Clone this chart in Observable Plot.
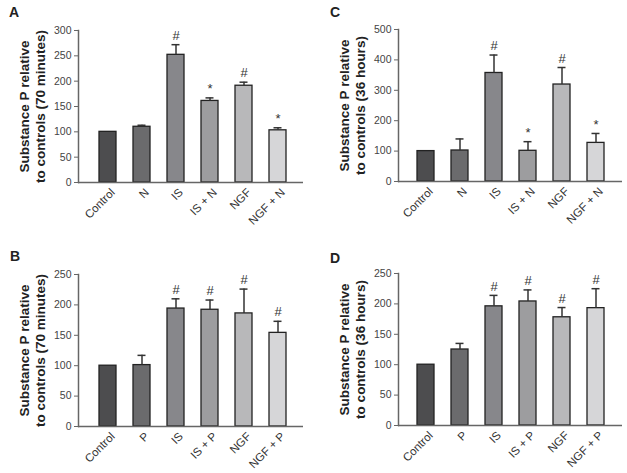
<!DOCTYPE html>
<html>
<head>
<meta charset="utf-8">
<script src="https://cdn.jsdelivr.net/npm/d3@7"></script>
<script src="https://cdn.jsdelivr.net/npm/@observablehq/plot@0.6"></script>
<style>
  body { margin: 0; background: #fff; }
  #wrap { position: relative; width: 627px; height: 473px; background: #fff; font-family: "Liberation Sans", Arial, sans-serif; }
  .panel { position: absolute; }
  .letter { position: absolute; font-weight: bold; font-size: 14px; color: #222; }
</style>
</head>
<body>
<div id="wrap"></div>
<script>
// Categories
const catsN = ["Control", "N", "IS", "IS + N", "NGF", "NGF + N"];
const catsP = ["Control", "P", "IS", "IS + P", "NGF", "NGF + P"];
const barColors = ["#4d4d4f", "#6b6b6d", "#87878b", "#9d9d9f", "#b8b8ba", "#d6d6d8"];

// Panel A: 70 minutes, N
const aMean = [100, 110, 252, 161, 191, 103];
const aErr  = [null, 113, 272, 167, 198, 108];
const aSig  = ["", "", "#", "*", "#", "*"];
const aTicks = [0, 50, 100, 150, 200, 250, 300];

// Panel C: 36 hours, N
const cMean = [100, 102, 357, 101, 319, 127];
const cErr  = [null, 140, 416, 131, 375, 158];
const cSig  = ["", "", "#", "*", "#", "*"];
const cTicks = [0, 100, 200, 300, 400, 500];

// Panel B: 70 minutes, P
const bMean = [100, 101, 194, 192, 186, 154];
const bErr  = [null, 117, 210, 208, 226, 173];
const bSig  = ["", "", "#", "#", "#", "#"];
const bTicks = [0, 50, 100, 150, 200, 250];

// Panel D: 36 hours, P
const dMean = [100, 125, 196, 204, 178, 193];
const dErr  = [null, 135, 214, 223, 194, 225];
const dSig  = ["", "", "#", "#", "#", "#"];
const dTicks = [0, 50, 100, 150, 200, 250];

const label70 = "Substance P relative\nto controls (70 minutes)";
const label36 = "Substance P relative\nto controls (36 hours)";

const FONT = "'Liberation Sans', Arial, sans-serif";

function panel({cats, mean, err, sig, ticks, label, width, marginRight, marginTop, marginBottom, xRange}) {
  const rows = cats.map((c, i) => ({cat: c, mean: mean[i], err: err[i], sig: sig[i], color: barColors[i]}));
  const withErr = rows.filter(d => d.err != null);
  const withSig = rows.filter(d => d.sig);
  return Plot.plot({
    width,
    height: 232,
    marginLeft: 78,
    marginRight,
    marginTop,
    marginBottom,
    style: {fontFamily: FONT, background: "transparent", color: "#333"},
    x: {domain: cats, range: xRange, paddingInner: 0.5, paddingOuter: 0.25},
    y: {domain: [0, ticks[ticks.length - 1]]},
    color: {type: "identity"},
    marks: [
      Plot.barY(rows, {x: "cat", y: "mean", fill: "color", stroke: "#222", strokeWidth: 1.3}),
      Plot.ruleX(withErr, {x: "cat", y1: "mean", y2: "err", stroke: "#333", strokeWidth: 1.5}),
      Plot.tickY(withErr, {x: "cat", y: "err", insetLeft: 4.5, insetRight: 4.5, stroke: "#333", strokeWidth: 1.5}),
      Plot.text(withSig, {x: "cat", y: "err", text: "sig", dy: -9, fontSize: 13, fill: "#333"}),
      Plot.ruleY([0], {stroke: "#666", strokeWidth: 1.5}),
      Plot.frame({anchor: "left", stroke: "#666", strokeWidth: 1.5}),
      Plot.axisY({ticks, tickSize: 4, tickPadding: 3, fontSize: 10.5, label: null, stroke: "#666", fill: "#444"}),
      Plot.axisX({tickRotate: -45, tickSize: 0, tickPadding: 6, dx: 5, dy: 2, fontSize: 11.5, label: null, fill: "#333"}),
      Plot.text([label], {frameAnchor: "left", dx: -47, rotate: -90, text: d => d, fontSize: 13.5, fontWeight: "bold", lineHeight: 1.18, fill: "#222", textAnchor: "middle", lineAnchor: "middle"})
    ]
  });
}

const wrap = document.getElementById("wrap");
function place(el, left, top) {
  const d = document.createElement("div");
  d.className = "panel";
  d.style.left = left + "px";
  d.style.top = top + "px";
  d.appendChild(el);
  wrap.appendChild(d);
}
function letter(t, left, top) {
  const d = document.createElement("div");
  d.className = "letter";
  d.textContent = t;
  d.style.left = left + "px";
  d.style.top = top + "px";
  wrap.appendChild(d);
}

place(panel({cats: catsN, mean: aMean, err: aErr, sig: aSig, ticks: aTicks, label: label70,
  width: 313, marginRight: 10, marginTop: 30, marginBottom: 50, xRange: [89.5, 295.5]}), 0, 0);
place(panel({cats: catsN, mean: cMean, err: cErr, sig: cSig, ticks: cTicks, label: label36,
  width: 307, marginRight: 5, marginTop: 29, marginBottom: 51, xRange: [87.4, 293.8]}), 320, 0);
place(panel({cats: catsP, mean: bMean, err: bErr, sig: bSig, ticks: bTicks, label: label70,
  width: 313, marginRight: 10, marginTop: 30, marginBottom: 50, xRange: [89.5, 295.5]}), 0, 244);
place(panel({cats: catsP, mean: dMean, err: dErr, sig: dSig, ticks: dTicks, label: label36,
  width: 307, marginRight: 5, marginTop: 29, marginBottom: 51, xRange: [87.4, 293.8]}), 320, 244);

letter("A", 9, 4);
letter("C", 330, 4);
letter("B", 10, 248);
letter("D", 330, 250);
</script>
</body>
</html>
